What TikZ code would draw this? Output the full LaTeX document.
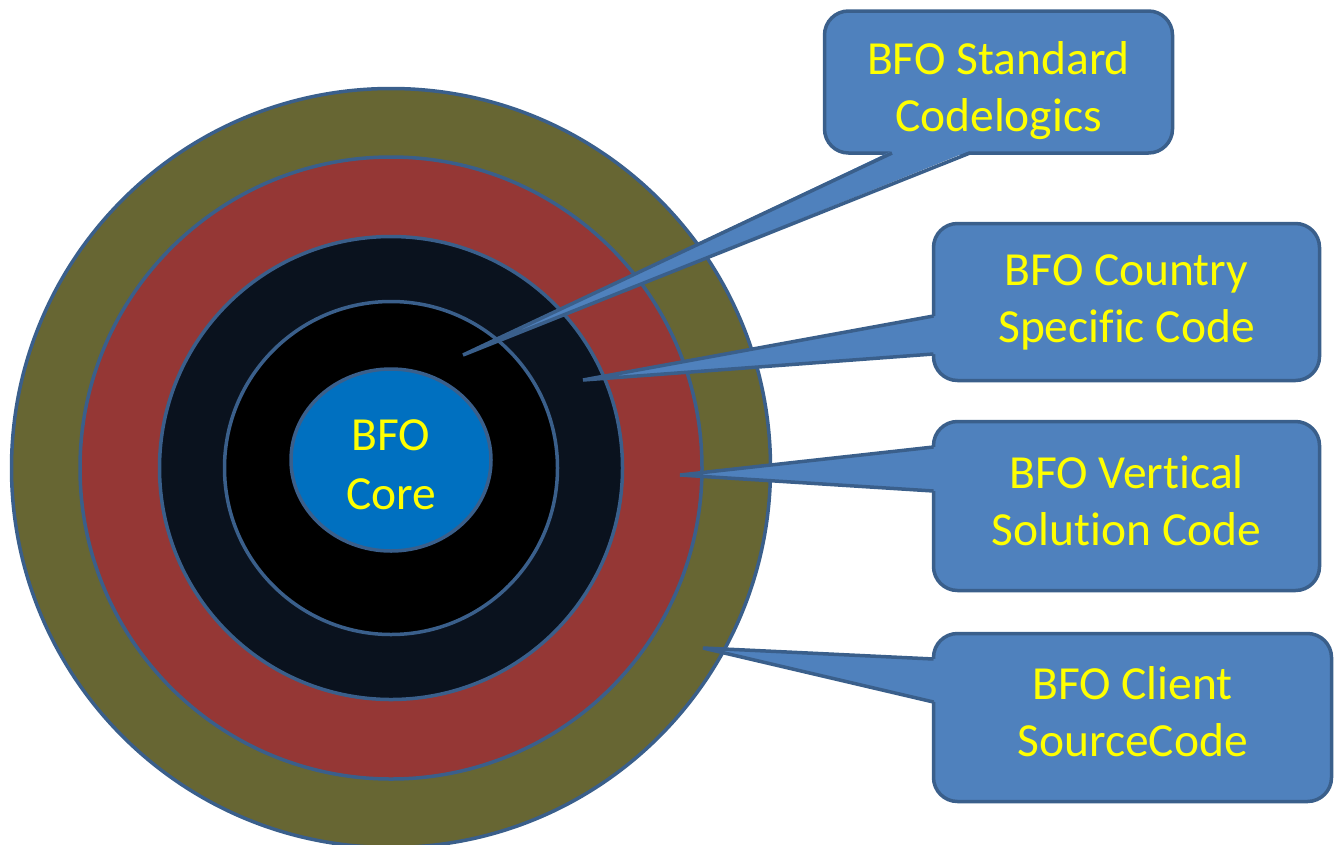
\documentclass[tikz,border=0pt]{standalone}
\usepackage{fontspec}
\setmainfont{Carlito}[Ligatures=NoCommon]
\usetikzlibrary{calc,shapes.geometric}
\definecolor{edgeblue}{HTML}{3A5F8B}
\definecolor{callfill}{HTML}{4F81BD}
\definecolor{ringolive}{HTML}{676633}
\definecolor{ringred}{HTML}{953735}
\definecolor{ringnavy}{HTML}{0A121E}
\definecolor{coreblue}{HTML}{0070C0}
\definecolor{labelyellow}{HTML}{FFFF00}

\begin{document}
\begin{tikzpicture}[x=1pt,y=-1pt,
  ring/.style={circle,draw=edgeblue,line width=3.5pt,inner sep=0pt},
  label text/.style={text=labelyellow,align=center,inner sep=0pt,
    font=\fontsize{47.5}{57}\selectfont},
  call box/.style={draw=edgeblue,fill=callfill,line width=3.5pt,
    rounded corners=24pt,inner sep=0pt},
  wedge fill/.style={fill=callfill},
  wedge line/.style={draw=edgeblue,line width=3.5pt,line join=miter}]

  \useasboundingbox (0,0) rectangle (1335,844);

  % rings, outside in
  \node[ring,fill=ringolive,minimum size=759pt] (c1) at (391,468) {};
  \node[ring,fill=ringred,minimum size=622pt] (c2) at (391,468) {};
  \node[ring,fill=ringnavy,minimum size=463pt] (c3) at (391,468) {};
  \node[ring,fill=black,minimum size=333pt] (c4) at (391,468) {};
  \node[ring,ellipse,fill=coreblue,minimum width=200pt,
    minimum height=182pt] (c5) at (391,460) {};
  \node[label text,font=\fontsize{47.5}{59}\selectfont] (n0) at ($(c5)+(0,5)$)
    {BFO\\Core};

  % callout boxes
  \node[call box,minimum width=348pt,minimum height=142pt] (b1) at (998.5,82) {};
  \node[call box,minimum width=386pt,minimum height=157pt] (b2) at (1126.5,302) {};
  \node[call box,minimum width=386pt,minimum height=169pt] (b3) at (1126.5,506) {};
  \node[call box,minimum width=398pt,minimum height=168pt] (b4) at (1132.5,717.5) {};

  % pointer tips
  \coordinate (t1) at (463,355);
  \coordinate (t2) at (583,380);
  \coordinate (t3) at (680,475);
  \coordinate (t4) at (703,648);

  % pointers
  \fill[wedge fill] ($(b1.south)+(-106.5,-4)$) -- (t1) -- ($(b1.south)+(-28.5,-4)$) -- cycle;
  \draw[wedge line] ($(b1.south)+(-106.5,-1.75)$) -- (t1) -- ($(b1.south)+(-28.5,-1.75)$);

  \fill[wedge fill] ($(b2.west)+(4,14)$) -- (t2) -- ($(b2.west)+(4,52)$) -- cycle;
  \draw[wedge line] ($(b2.west)+(1.75,14)$) -- (t2) -- ($(b2.west)+(1.75,52)$);

  \fill[wedge fill] ($(b3.west)+(4,-59)$) -- (t3) -- ($(b3.west)+(4,-15)$) -- cycle;
  \draw[wedge line] ($(b3.west)+(1.75,-59)$) -- (t3) -- ($(b3.west)+(1.75,-15)$);

  \fill[wedge fill] ($(b4.west)+(4,-58.5)$) -- (t4) -- ($(b4.west)+(4,-15.5)$) -- cycle;
  \draw[wedge line] ($(b4.west)+(1.75,-58.5)$) -- (t4) -- ($(b4.west)+(1.75,-15.5)$);

  % callout texts
  \node[label text] (n1) at ($(b1)+(0,9)$) {BFO Standard\\Codelogics};
  \node[label text] (n2) at ($(b2)+(0,0)$) {BFO Country\\Specific Code};
  \node[label text] (n3) at ($(b3)+(0,-5)$) {BFO Vertical\\Solution Code};
  \node[label text] (n4) at ($(b4)+(0,-5.5)$) {BFO Client\\SourceCode};

\end{tikzpicture}
\end{document}
